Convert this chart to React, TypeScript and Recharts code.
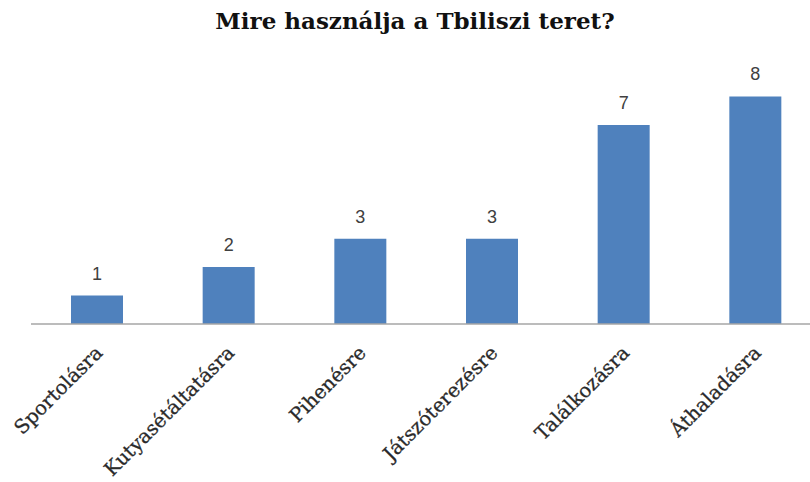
import { BarChart, Bar, XAxis, YAxis, LabelList } from 'recharts';

const categories = [
  'Sportolásra',
  'Kutyasétáltatásra',
  'Pihenésre',
  'Játszóterezésre',
  'Találkozásra',
  'Áthaladásra',
];
const answers = [1, 2, 3, 3, 7, 8];

const data = categories.map((name, i) => ({ name, value: answers[i] }));

const BAR_COLOR = '#4F81BD';
const SERIF = '"DejaVu Serif", serif';

function RotatedTick({ x, y, payload }: any) {
  const ax = x + 7;
  const ay = y + 22;
  return (
    <text
      x={ax}
      y={ay}
      transform={`rotate(-45, ${ax}, ${ay})`}
      textAnchor="end"
      fontFamily={SERIF}
      fontSize={19.5}
      fill="#2a2a2a"
      stroke="#2a2a2a"
      strokeWidth={0.3}
    >
      {payload.value}
    </text>
  );
}

export default function App() {
  return (
    <div
      style={{
        position: 'absolute',
        left: 0,
        top: 0,
        width: 810,
        height: 482,
        overflow: 'hidden',
        background: '#fff',
      }}
    >
      <div
        style={{
          position: 'absolute',
          left: 0,
          top: 7,
          width: 830,
          textAlign: 'center',
          fontFamily: SERIF,
          fontWeight: 'bold',
          fontSize: 23,
          color: '#111',
        }}
      >
        Mire használja a Tbiliszi teret?
      </div>
      <BarChart
        width={822}
        height={482}
        data={data}
        margin={{ top: 68, right: 1, left: 31, bottom: 8 }}
      >
        <XAxis
          dataKey="name"
          interval={0}
          tickLine={false}
          axisLine={{ stroke: '#A6A6A6', strokeWidth: 1.5 }}
          tick={<RotatedTick />}
          height={150}
        />
        <YAxis hide domain={[0, 9]} />
        <Bar dataKey="value" fill={BAR_COLOR} barSize={52} isAnimationActive={false}>
          <LabelList
            dataKey="value"
            position="top"
            offset={16}
            fill="#404040"
            fontSize={18}
            fontFamily='"Liberation Sans", sans-serif'
          />
        </Bar>
      </BarChart>
    </div>
  );
}
